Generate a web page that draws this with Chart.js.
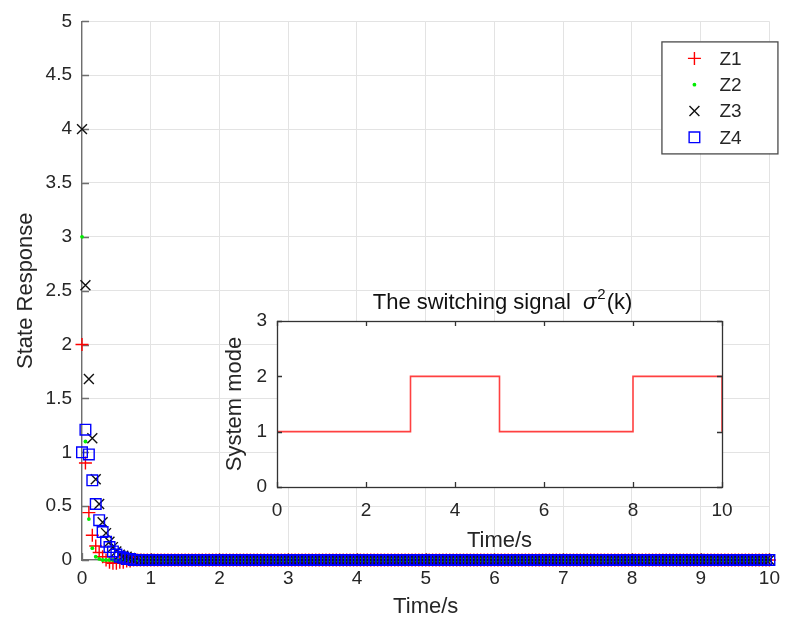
<!DOCTYPE html>
<html><head><meta charset="utf-8">
<script src="https://cdn.jsdelivr.net/npm/chart.js@4.4.0/dist/chart.umd.min.js"></script>
<style>
html,body{margin:0;padding:0;background:#fff;}
#wrap{position:relative;width:787px;height:628px;overflow:hidden;}
#main{position:absolute;left:0;top:0;}
#inset{position:absolute;left:220px;top:283px;}
</style></head><body>
<div id="wrap">
<canvas id="main" width="787" height="628"></canvas>
<canvas id="inset" width="530" height="277"></canvas>
</div>
<script>
// ---------- DATA ----------
const time = [
0,0.05,0.1,0.15,0.2,0.25,0.3,0.35,0.4,0.45,0.5,0.55,0.6,0.65,0.7,0.75,0.8,0.85,0.9,0.95,
1,1.05,1.1,1.15,1.2,1.25,1.3,1.35,1.4,1.45,1.5,1.55,1.6,1.65,1.7,1.75,1.8,1.85,1.9,1.95,
2,2.05,2.1,2.15,2.2,2.25,2.3,2.35,2.4,2.45,2.5,2.55,2.6,2.65,2.7,2.75,2.8,2.85,2.9,2.95,
3,3.05,3.1,3.15,3.2,3.25,3.3,3.35,3.4,3.45,3.5,3.55,3.6,3.65,3.7,3.75,3.8,3.85,3.9,3.95,
4,4.05,4.1,4.15,4.2,4.25,4.3,4.35,4.4,4.45,4.5,4.55,4.6,4.65,4.7,4.75,4.8,4.85,4.9,4.95,
5,5.05,5.1,5.15,5.2,5.25,5.3,5.35,5.4,5.45,5.5,5.55,5.6,5.65,5.7,5.75,5.8,5.85,5.9,5.95,
6,6.05,6.1,6.15,6.2,6.25,6.3,6.35,6.4,6.45,6.5,6.55,6.6,6.65,6.7,6.75,6.8,6.85,6.9,6.95,
7,7.05,7.1,7.15,7.2,7.25,7.3,7.35,7.4,7.45,7.5,7.55,7.6,7.65,7.7,7.75,7.8,7.85,7.9,7.95,
8,8.05,8.1,8.15,8.2,8.25,8.3,8.35,8.4,8.45,8.5,8.55,8.6,8.65,8.7,8.75,8.8,8.85,8.9,8.95,
9,9.05,9.1,9.15,9.2,9.25,9.3,9.35,9.4,9.45,9.5,9.55,9.6,9.65,9.7,9.75,9.8,9.85,9.9,9.95,
10];
const z1 = [
2,0.9,0.44,0.23,0.13,0.07,0.03,0,-0.02,-0.03,-0.03,-0.02,-0.02,-0.01,-0.01,0,0,0,0,0,
0,0,0,0,0,0,0,0,0,0,0,0,0,0,0,0,0,0,0,0,
0,0,0,0,0,0,0,0,0,0,0,0,0,0,0,0,0,0,0,0,
0,0,0,0,0,0,0,0,0,0,0,0,0,0,0,0,0,0,0,0,
0,0,0,0,0,0,0,0,0,0,0,0,0,0,0,0,0,0,0,0,
0,0,0,0,0,0,0,0,0,0,0,0,0,0,0,0,0,0,0,0,
0,0,0,0,0,0,0,0,0,0,0,0,0,0,0,0,0,0,0,0,
0,0,0,0,0,0,0,0,0,0,0,0,0,0,0,0,0,0,0,0,
0,0,0,0,0,0,0,0,0,0,0,0,0,0,0,0,0,0,0,0,
0,0,0,0,0,0,0,0,0,0,0,0,0,0,0,0,0,0,0,0,
0];
const z2 = [
3,1.1,0.38,0.11,0.03,0.01,0,0,0,0,0,0,0,0,0,0,0,0,0,0,
0,0,0,0,0,0,0,0,0,0,0,0,0,0,0,0,0,0,0,0,
0,0,0,0,0,0,0,0,0,0,0,0,0,0,0,0,0,0,0,0,
0,0,0,0,0,0,0,0,0,0,0,0,0,0,0,0,0,0,0,0,
0,0,0,0,0,0,0,0,0,0,0,0,0,0,0,0,0,0,0,0,
0,0,0,0,0,0,0,0,0,0,0,0,0,0,0,0,0,0,0,0,
0,0,0,0,0,0,0,0,0,0,0,0,0,0,0,0,0,0,0,0,
0,0,0,0,0,0,0,0,0,0,0,0,0,0,0,0,0,0,0,0,
0,0,0,0,0,0,0,0,0,0,0,0,0,0,0,0,0,0,0,0,
0,0,0,0,0,0,0,0,0,0,0,0,0,0,0,0,0,0,0,0,
0];
const z3 = [
4,2.55,1.68,1.13,0.75,0.52,0.35,0.25,0.17,0.12,0.08,0.05,0.04,0.03,0.02,0.01,0.01,0,0,0,
0,0,0,0,0,0,0,0,0,0,0,0,0,0,0,0,0,0,0,0,
0,0,0,0,0,0,0,0,0,0,0,0,0,0,0,0,0,0,0,0,
0,0,0,0,0,0,0,0,0,0,0,0,0,0,0,0,0,0,0,0,
0,0,0,0,0,0,0,0,0,0,0,0,0,0,0,0,0,0,0,0,
0,0,0,0,0,0,0,0,0,0,0,0,0,0,0,0,0,0,0,0,
0,0,0,0,0,0,0,0,0,0,0,0,0,0,0,0,0,0,0,0,
0,0,0,0,0,0,0,0,0,0,0,0,0,0,0,0,0,0,0,0,
0,0,0,0,0,0,0,0,0,0,0,0,0,0,0,0,0,0,0,0,
0,0,0,0,0,0,0,0,0,0,0,0,0,0,0,0,0,0,0,0,
0];
const z4 = [
1,1.21,0.98,0.74,0.52,0.37,0.26,0.17,0.12,0.08,0.05,0.03,0.02,0.01,0.01,0,0,0,0,0,
0,0,0,0,0,0,0,0,0,0,0,0,0,0,0,0,0,0,0,0,
0,0,0,0,0,0,0,0,0,0,0,0,0,0,0,0,0,0,0,0,
0,0,0,0,0,0,0,0,0,0,0,0,0,0,0,0,0,0,0,0,
0,0,0,0,0,0,0,0,0,0,0,0,0,0,0,0,0,0,0,0,
0,0,0,0,0,0,0,0,0,0,0,0,0,0,0,0,0,0,0,0,
0,0,0,0,0,0,0,0,0,0,0,0,0,0,0,0,0,0,0,0,
0,0,0,0,0,0,0,0,0,0,0,0,0,0,0,0,0,0,0,0,
0,0,0,0,0,0,0,0,0,0,0,0,0,0,0,0,0,0,0,0,
0,0,0,0,0,0,0,0,0,0,0,0,0,0,0,0,0,0,0,0,
0];
const seriesNames = ['Z1','Z2','Z3','Z4'];
const mainXLabel = 'Time/s';
const mainYLabel = 'State Response';
const yTickLabels = ['0','0.5','1','1.5','2','2.5','3','3.5','4','4.5','5'];
const xTickLabels = ['0','1','2','3','4','5','6','7','8','9','10'];
const modeTime = [0,3,5,8,10];
const modeValue = [1,2,1,2,1];
const insetTitle = 'The switching signal';
const insetXLabel = 'Time/s';
const insetYLabel = 'System mode';
const insetXTickLabels = ['0','2','4','6','8','10'];
const insetYTickLabels = ['0','1','2','3'];

// ---------- STYLE ----------
const FONT = "'Liberation Sans', Arial, Helvetica, sans-serif";
const TXT = '#262626';
const GRID = '#e3e3e3';
const AXIS = '#6e6e6e';

function pts(vals){ return time.map((t,i)=>({x:t,y:vals[i]})); }

const styles = [
  {pointStyle:'cross',    pointRadius:6.5, pointBorderColor:'#ff0000', pointBackgroundColor:'#ff0000', pointBorderWidth:1.4, order:3},
  {pointStyle:'circle',   pointRadius:1.9, pointBorderColor:'#00ee00', pointBackgroundColor:'#00ee00', pointBorderWidth:0, order:2},
  {pointStyle:'crossRot', pointRadius:7,   pointBorderColor:'#111111', pointBackgroundColor:'#111111', pointBorderWidth:1.4, order:1},
  {pointStyle:'rect',     pointRadius:7.5, pointBorderColor:'#0000ff', pointBackgroundColor:'rgba(0,0,0,0)', pointBorderWidth:1.4, order:0}
];
const seriesVals = [z1,z2,z3,z4];

function drawMarker(ctx, st, x, y){
  ctx.save();
  ctx.strokeStyle = st.pointBorderColor;
  ctx.fillStyle = st.pointBackgroundColor;
  ctx.lineWidth = st.pointBorderWidth;
  if (Chart.helpers && Chart.helpers.drawPoint) {
    Chart.helpers.drawPoint(ctx, {pointStyle:st.pointStyle, radius:st.pointRadius, rotation:0, borderWidth:st.pointBorderWidth}, x, y);
  }
  ctx.restore();
}

const mainDecor = {
  id:'mainDecor',
  beforeDatasetsDraw(chart){
    const {ctx, chartArea:a, scales:{x,y}} = chart;
    ctx.save();
    ctx.strokeStyle = AXIS; ctx.lineWidth = 1.3;
    ctx.beginPath();
    y.ticks.forEach(t=>{ const py = Math.round(y.getPixelForValue(t.value))+0.5; ctx.moveTo(a.left, py); ctx.lineTo(a.left+7, py); });
    x.ticks.forEach(t=>{ const px = Math.round(x.getPixelForValue(t.value))+0.5; ctx.moveTo(px, a.bottom); ctx.lineTo(px, a.bottom-7); });
    ctx.stroke();
    ctx.restore();
  },
  afterDraw(chart){
    const {ctx, chartArea:a} = chart;
    const bx = a.right-108, by = a.top+20, bw = 116, bh = 112;
    ctx.save();
    ctx.fillStyle = '#fff'; ctx.fillRect(bx, by, bw, bh);
    ctx.strokeStyle = '#4a4a4a'; ctx.lineWidth = 1.3; ctx.strokeRect(bx+0.5, by+0.5, bw, bh);
    ctx.font = '19px ' + FONT; ctx.fillStyle = TXT; ctx.textBaseline = 'middle'; ctx.textAlign = 'left';
    chart.data.datasets.forEach((ds,i)=>{
      const cy = by + 17 + i*26.3;
      drawMarker(ctx, styles[i], bx+33, cy);
      ctx.fillStyle = TXT;
      ctx.fillText(ds.label, bx+58, cy+1);
    });
    ctx.restore();
  }
};

new Chart(document.getElementById('main'), {
  type:'scatter',
  data:{ datasets: seriesNames.map((n,i)=>Object.assign({label:n, data:pts(seriesVals[i]), showLine:false, clip:false}, styles[i])) },
  options:{
    responsive:false, animation:false, events:[],
    layout:{padding:{top:16,right:17,left:0,bottom:0}},
    plugins:{legend:{display:false}, tooltip:{enabled:false}, title:{display:false}},
    scales:{
      x:{type:'linear', min:0, max:10,
        ticks:{stepSize:1, color:TXT, font:{family:FONT,size:19}, padding:7, maxRotation:0,
          callback:(v,i)=>xTickLabels[i]},
        grid:{color:GRID, drawTicks:false, lineWidth:1},
        border:{display:true, color:AXIS, width:1.3},
        title:{display:true, text:mainXLabel, color:TXT, font:{family:FONT,size:22}, padding:{top:0,bottom:8}},
        afterFit(s){ s.height = 68; }
      },
      y:{type:'linear', min:0, max:5,
        ticks:{stepSize:0.5, color:TXT, font:{family:FONT,size:19}, padding:10,
          callback:(v,i)=>yTickLabels[i]},
        grid:{color:GRID, drawTicks:false, lineWidth:1},
        border:{display:true, color:AXIS, width:1.3},
        title:{display:true, text:mainYLabel, color:TXT, font:{family:FONT,size:22}, padding:{top:13,bottom:0}},
        afterFit(s){ s.width = 82; }
      }
    }
  },
  plugins:[mainDecor]
});

// ---------- INSET ----------
const insetDecor = {
  id:'insetDecor',
  beforeDraw(chart){
    const {ctx, chartArea:a} = chart;
    ctx.save(); ctx.fillStyle = '#fff'; ctx.fillRect(a.left, a.top, a.right-a.left, a.bottom-a.top); ctx.restore();
  },
  afterDraw(chart){
    const {ctx, chartArea:a, scales:{x,y}} = chart;
    ctx.save();
    ctx.strokeStyle = '#333'; ctx.lineWidth = 1.3;
    ctx.strokeRect(Math.round(a.left)+0.5, Math.round(a.top)+0.5, Math.round(a.right-a.left), Math.round(a.bottom-a.top));
    ctx.beginPath();
    y.ticks.forEach(t=>{ const py = Math.round(y.getPixelForValue(t.value))+0.5;
      ctx.moveTo(a.left, py); ctx.lineTo(a.left+5, py); ctx.moveTo(a.right, py); ctx.lineTo(a.right-5, py); });
    x.ticks.forEach(t=>{ const px = Math.round(x.getPixelForValue(t.value))+0.5;
      ctx.moveTo(px, a.bottom); ctx.lineTo(px, a.bottom-5); ctx.moveTo(px, a.top); ctx.lineTo(px, a.top+5); });
    ctx.stroke();
    // title: "The switching signal  σ²(k)"
    const f1 = '22px ' + FONT, fs = 'italic 22px ' + FONT, fsup = '15px ' + FONT;
    ctx.textBaseline = 'alphabetic'; ctx.fillStyle = '#111';
    const t1 = insetTitle + '  ', t2 = '\u03C3', t3 = '2', t4 = '(k)';
    ctx.font = f1; const w1 = ctx.measureText(t1).width, w4 = ctx.measureText(t4).width;
    ctx.font = fs; const w2 = ctx.measureText(t2).width;
    ctx.font = fsup; const w3 = ctx.measureText(t3).width;
    const total = w1+w2+w3+2+w4;
    let cx = (a.left+a.right)/2 + 3 - total/2;
    const base = a.top - 12;
    ctx.textAlign = 'left';
    ctx.font = f1; ctx.fillText(t1, cx, base); cx += w1;
    ctx.font = fs; ctx.fillText(t2, cx, base); cx += w2 + 1;
    ctx.font = fsup; ctx.fillText(t3, cx, base - 10); cx += w3 + 1;
    ctx.font = f1; ctx.fillText(t4, cx, base);
    ctx.restore();
  }
};

new Chart(document.getElementById('inset'), {
  type:'line',
  data:{ datasets:[{ label:'mode', data: modeTime.map((t,i)=>({x:t,y:modeValue[i]})), stepped:true,
    borderColor:'#ff4040', borderWidth:1.6, pointRadius:0, fill:false }]},
  options:{
    responsive:false, animation:false, events:[],
    layout:{padding:{top:38,right:28,left:0,bottom:0}},
    plugins:{legend:{display:false}, tooltip:{enabled:false}, title:{display:false}},
    scales:{
      x:{type:'linear', min:0, max:10,
        ticks:{stepSize:2, color:TXT, font:{family:FONT,size:19}, padding:12, maxRotation:0,
          callback:(v,i)=>insetXTickLabels[i]},
        grid:{display:false, drawTicks:false}, border:{display:false},
        title:{display:true, text:insetXLabel, color:TXT, font:{family:FONT,size:22}, padding:{top:0,bottom:6}},
        afterFit(s){ s.height = 73; }
      },
      y:{type:'linear', min:0, max:3,
        ticks:{stepSize:1, color:TXT, font:{family:FONT,size:19}, padding:10,
          callback:(v,i)=>insetYTickLabels[i]},
        grid:{display:false, drawTicks:false}, border:{display:false},
        title:{display:true, text:insetYLabel, color:TXT, font:{family:FONT,size:22}, padding:{top:2,bottom:0}},
        afterFit(s){ s.width = 57; }
      }
    }
  },
  plugins:[insetDecor]
});
</script>
</body></html>
